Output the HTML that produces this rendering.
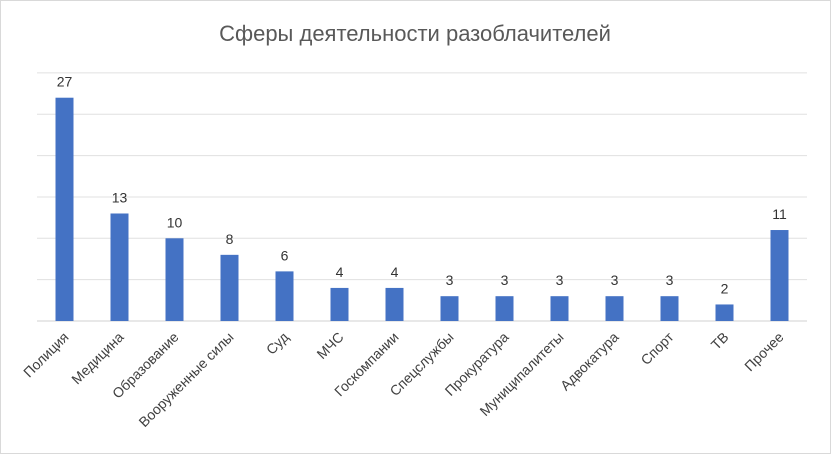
<!DOCTYPE html>
<html><head><meta charset="utf-8"><style>
body{margin:0;background:#fff;}
svg{display:block;font-family:"Liberation Sans","DejaVu Sans",sans-serif;}
</style></head><body>
<svg id="c" width="831" height="454">
<rect x="0.5" y="0.5" width="830" height="453" fill="#fff" stroke="#d9d9d9"/>
<text x="415" y="41" text-anchor="middle" font-size="22" fill="#595959">Сферы деятельности разоблачителей</text>
<g id="grid"></g><g id="bars"></g><g id="labels"></g>
</svg>
<script>
const categories=["Полиция","Медицина","Образование","Вооруженные силы","Суд","МЧС","Госкомпании","Спецслужбы","Прокуратура","Муниципалитеты","Адвокатура","Спорт","ТВ","Прочее"];
const values=[27,13,10,8,6,4,4,3,3,3,3,3,2,11];
const gridTicks=[0,5,10,15,20,25,30];
const NS="http://www.w3.org/2000/svg";
const x0=37,x1=807,y0=321,pxPerUnit=8.27;
const band=(x1-x0)/categories.length,bw=18;
const yScale=v=>y0-v*pxPerUnit;
const xCenter=i=>x0+band*(i+0.5);
function mk(t,a){const e=document.createElementNS(NS,t);for(const k in a)e.setAttribute(k,a[k]);return e;}
const grid=document.getElementById('grid'),bars=document.getElementById('bars'),labels=document.getElementById('labels');
gridTicks.forEach(t=>{
  const l=mk('line',{x1:x0,x2:x1,y1:yScale(t),y2:yScale(t),stroke:t===0?'#d0d0d0':'#e0e0e0','stroke-width':1});
  
  
  grid.appendChild(l);
});
values.forEach((v,i)=>{
  const cx=xCenter(i);
  const r=mk('rect',{x:cx-bw/2,y:yScale(v),width:bw,height:v*pxPerUnit,fill:'#4472c4'});
  
  
  bars.appendChild(r);
  const t=mk('text',{x:cx,y:yScale(v)-11,'text-anchor':'middle','font-size':14,fill:'#333'});
  t.textContent=v;
  
  
  labels.appendChild(t);
  const c=mk('text',{x:cx+5,y:y0+17,'text-anchor':'end','font-size':14,fill:'#404040',transform:`rotate(-45 ${cx+5} ${y0+17})`});
  c.textContent=categories[i];
  
  
  labels.appendChild(c);
});
</script>
</body></html>
